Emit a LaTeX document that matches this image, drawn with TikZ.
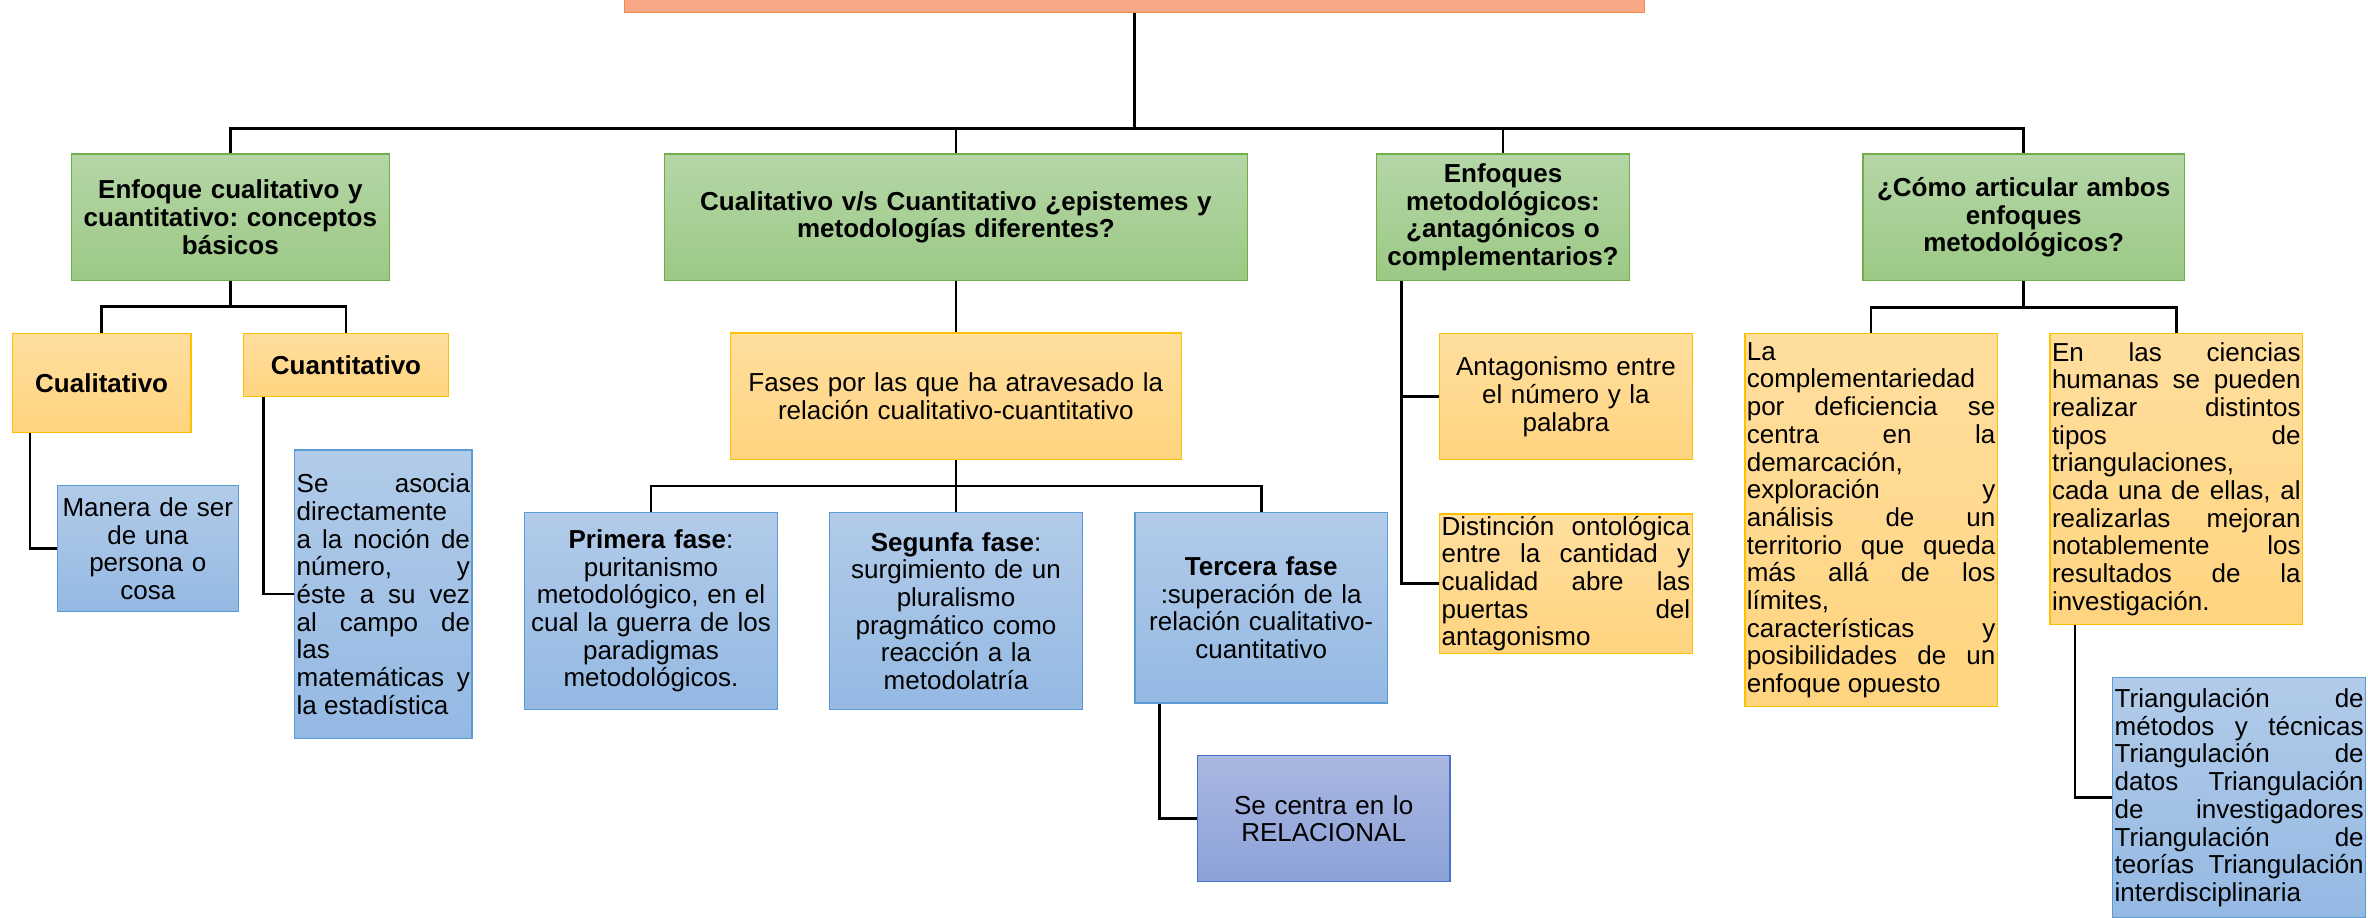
\documentclass[tikz,border=0pt]{standalone}
\usepackage{fontspec}
\setmainfont{Liberation Sans}
\usepackage{tikz}
\usetikzlibrary{positioning}
\setlength{\parindent}{0pt}
\frenchspacing

\definecolor{rofill}{HTML}{F8A886}
\definecolor{roline}{HTML}{F28B47}
\definecolor{grtop}{HTML}{B5D6A7}
\definecolor{grbot}{HTML}{9CC985}
\definecolor{grline}{HTML}{70AD47}
\definecolor{gotop}{HTML}{FFDE9E}
\definecolor{gobot}{HTML}{FFD47F}
\definecolor{goline}{HTML}{FFC000}
\definecolor{bltop}{HTML}{B2CBE9}
\definecolor{blbot}{HTML}{94B9E3}
\definecolor{blline}{HTML}{5B9BD5}
\definecolor{vitop}{HTML}{AAB7E1}
\definecolor{vibot}{HTML}{8CA2D8}
\definecolor{viline}{HTML}{4472C4}

\newcommand{\boxfont}{\fontsize{13}{13.85}\selectfont}
\newcommand{\justfont}{\boxfont\tolerance 10000 \hyphenpenalty 10000 }

\begin{document}
\begin{tikzpicture}[x=0.5pt, y=-0.5pt, node distance=152.5pt]
\tikzstyle{block} = [rectangle, draw, line width=0.7pt, inner xsep=1pt, inner ysep=1pt, align=center, font=\boxfont]
\tikzstyle{root} = [rectangle, draw=roline, fill=rofill, line width=0.7pt, inner sep=0pt, minimum width=510.15pt, minimum height=36.15pt]
\tikzstyle{head} = [block, draw=grline, top color=grtop, bottom color=grbot, font=\boxfont\bfseries, minimum height=63.35pt]
\tikzstyle{sub} = [block, draw=goline, top color=gotop, bottom color=gobot]
\tikzstyle{leaf} = [block, draw=blline, top color=bltop, bottom color=blbot]
\tikzstyle{deep} = [block, draw=viline, top color=vitop, bottom color=vibot]
\tikzstyle{just} = [align=justify, font=\justfont]
\tikzstyle{link} = [draw, line width=1.3pt]

\path[use as bounding box] (0,0) rectangle (2368,917);

    % the root and the four headings
    \node [root] (root) at (1134.55,-23.85) {};
    \node [head, text width=156.95pt] (enf) at (230.35,217.35) {Enfoque cualitativo y\\ cuantitativo: conceptos\\ básicos};
    \node [head, text width=289.55pt] (vs) at (955.95,217.35) {Cualitativo v/s Cuantitativo ¿epistemes y\\ metodologías diferentes?};
    \node [head, text width=124.3pt] (met) at (1503,217.35) {Enfoques\\ metodológicos:\\ ¿antagónicos o\\ complementarios?};
    \node [head, text width=158.7pt] (como) at (2023.7,217.35) {¿Cómo articular ambos\\ enfoques\\ metodológicos?};

    % left branch
    \node [sub, font=\boxfont\bfseries, text width=87.35pt, minimum height=49.5pt] (cual) at (101.65,382.8) {Cualitativo};
    \node [sub, font=\boxfont\bfseries, text width=100.3pt, minimum height=31.7pt] (cuant) at (346,365) {Cuantitativo};
    \node [leaf, text width=88.5pt, minimum height=63pt] (manera) at (147.8,548.7) {Manera de ser\\ de una\\ persona o\\ cosa};
    \node [leaf, just, text width=86.65pt, minimum height=144.15pt] (asocia) at (383.35,594.15) {Se asocia\linebreak directamente\linebreak a la noción de\linebreak número, y\linebreak éste a su vez\linebreak al campo de\linebreak las\linebreak matemáticas y\linebreak la estadística};

    % middle branch
    \node [sub, text width=223.6pt, minimum height=63.2pt] (fases) at (955.8,396.2) {Fases por las que ha atravesado la\\ relación cualitativo-cuantitativo};
    \node [leaf, text width=124.3pt, minimum height=98.4pt] (prim) at (651,611) {\textbf{Primera fase}:\\ puritanismo\\ metodológico, en el\\ cual la guerra de los\\ paradigmas\\ metodológicos.};
    \node [leaf, text width=124.3pt, minimum height=98.4pt, right of=prim] (seg) {\textbf{Segunfa fase}:\\ surgimiento de un\\ pluralismo\\ pragmático como\\ reacción a la\\ metodolatría};
    \node [leaf, text width=124.3pt, minimum height=95.1pt] (terc) at (1261.2,607.7) {\textbf{Tercera fase}\\ :superación de la\\ relación cualitativo-\\ cuantitativo};
    \node [deep, text width=124.35pt, minimum height=63pt] (relac) at (1323.65,818.7) {Se centra en lo\\ RELACIONAL};

    % right branches
    \node [sub, text width=124.3pt, minimum height=62.95pt] (ant) at (1565.9,396.65) {Antagonismo entre\\ el número y la\\ palabra};
    \node [sub, just, text width=124.3pt, minimum height=63.35pt, below=26.5pt of ant] (dist) {Distinción ontológica\linebreak entre la cantidad y\linebreak cualidad abre las\linebreak puertas del\linebreak antagonismo};
    \node [sub, just, text width=124.3pt, minimum height=186.5pt] (compl) at (1871.1,520.2) {La\linebreak complementariedad\linebreak por deficiencia se\linebreak centra en la\linebreak demarcación,\linebreak exploración y\linebreak análisis de un\linebreak territorio que queda\linebreak más allá de los\linebreak límites,\linebreak características y\linebreak posibilidades de un\linebreak enfoque opuesto};
    \node [sub, just, text width=124.3pt, minimum height=145.3pt] (cien) at (2176.3,479) {En las ciencias\linebreak humanas se pueden\linebreak realizar distintos\linebreak tipos de\linebreak triangulaciones,\linebreak cada una de ellas, al\linebreak realizarlas mejoran\linebreak notablemente los\linebreak resultados de la\linebreak investigación.};
    \node [leaf, just, text width=124.5pt, minimum height=120.35pt] (tri) at (2239.2,797.65) {Triangulación de\linebreak métodos y técnicas\linebreak Triangulación de\linebreak datos Triangulación\linebreak de investigadores\linebreak Triangulación de\linebreak teorías Triangulación\linebreak interdisciplinaria};

    % the tree lines
    \draw [link] (root.south) -- ++(0,115.4) coordinate (bar0);
    \foreach \n in {enf,vs,met,como} \draw [link] (bar0) -| (\n.north);
    \draw [link] (enf.south) -- ++(0,25.3) coordinate (bar1);
    \foreach \n in {cual,cuant} \draw [link] (bar1) -| (\n.north);
    \draw [link] (vs.south) -- (vs.south |- fases.north);
    \draw [link] (fases.south) -- ++(0,26) coordinate (bar2);
    \foreach \n in {prim,seg,terc} \draw [link] (bar2) -| (\n.north);
    \draw [link] (como.south) -- ++(0,26.3) coordinate (bar3);
    \foreach \n in {compl,cien} \draw [link] (bar3) -| (\n.north);

    % side lines down the left of a box
    \draw [link] ([xshift=9.2pt]cual.south west) |- (manera.west);
    \draw [link] ([xshift=10.3pt]cuant.south west) |- (asocia.west);
    \draw [link] ([xshift=12.7pt]met.south west) |- (ant.west);
    \draw [link] ([xshift=12.7pt]met.south west) |- (dist.west);
    \draw [link] ([xshift=12.65pt]terc.south west) |- (relac.west);
    \draw [link] ([xshift=12.85pt]cien.south west) |- (tri.west);

\end{tikzpicture}
\end{document}
